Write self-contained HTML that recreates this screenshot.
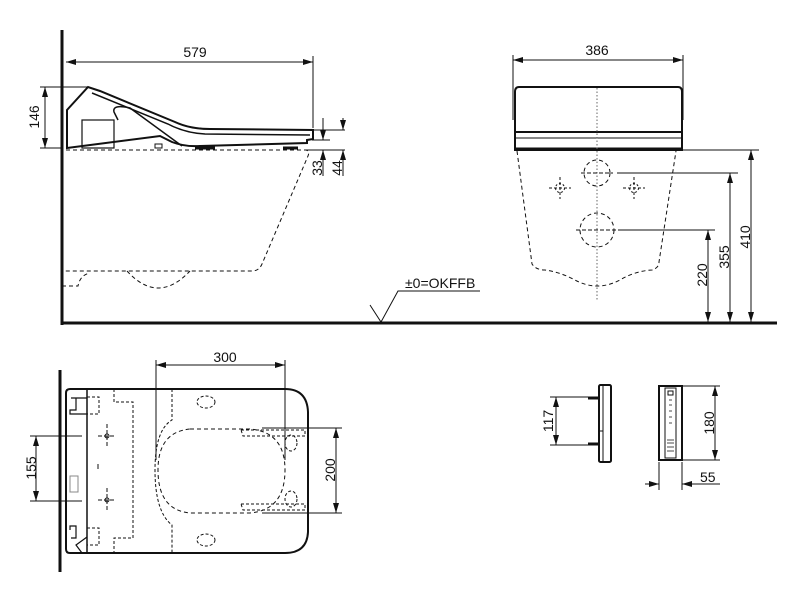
<!DOCTYPE html>
<html><head><meta charset="utf-8"><style>
html,body{margin:0;padding:0;background:#fff;width:800px;height:600px;overflow:hidden}
svg{display:block}
text{font-family:"Liberation Sans",sans-serif;font-size:14px;fill:#111}
</style></head><body>
<svg width="800" height="600" viewBox="0 0 800 600" xmlns="http://www.w3.org/2000/svg">
<defs>
<marker id="a" viewBox="0 0 10 6" refX="10" refY="3" markerWidth="10" markerHeight="6" orient="auto-start-reverse" markerUnits="userSpaceOnUse"><path d="M0,0 L10,3 L0,6 z" fill="#111"/></marker>
</defs>
<g stroke="#111" fill="none" stroke-width="1">
<line x1="62" y1="30" x2="62" y2="325" stroke-width="3"/>
<line x1="61" y1="323" x2="777" y2="323" stroke-width="3"/>
<line x1="66" y1="62" x2="313" y2="62" marker-start="url(#a)" marker-end="url(#a)"/>
<line x1="313" y1="56" x2="313" y2="128"/>
<line x1="40" y1="87" x2="88" y2="87"/>
<line x1="40" y1="148" x2="62" y2="148"/>
<line x1="45" y1="87" x2="45" y2="148" marker-start="url(#a)" marker-end="url(#a)"/>
<path d="M67,148 L67,110 L88,87 L100,91 L175,122 Q190,129 210,129 L313,130 L313,139 L307,140 L307,143 L200,146 Q185,147 172,142 L160,136 Z" stroke-width="2" fill="#fff"/>
<path d="M92,93 L168,124 Q185,133 205,134 L310,135" stroke-width="1.5"/>
<path d="M182,146 L130,108 Q112,104 114,112 L118,120" stroke-width="1.5"/>
<rect x="82" y="120" width="32" height="28" stroke-width="1.2"/>
<rect x="155" y="144" width="7" height="4" stroke-width="1"/>
<line x1="195" y1="148" x2="215" y2="148" stroke-width="3"/>
<line x1="283" y1="148" x2="298" y2="148" stroke-width="3"/>
<path d="M66,150 L306,150 Q310,151 308,156 L262,264 Q259,271 252,271 L62,271" stroke-dasharray="4,3"/>
<path d="M127,271 Q158,305 190,271" stroke-dasharray="4,3"/>
<path d="M62,286 L78,286 Q80,275 90,273" stroke-dasharray="4,3"/>
<line x1="312" y1="130" x2="345" y2="130"/>
<line x1="312" y1="140" x2="330" y2="140"/>
<line x1="306" y1="150" x2="345" y2="150"/>
<line x1="323" y1="118" x2="323" y2="140" marker-end="url(#a)"/>
<line x1="323" y1="176" x2="323" y2="150" marker-end="url(#a)"/>
<line x1="343" y1="118" x2="343" y2="130" marker-end="url(#a)"/>
<line x1="343" y1="176" x2="343" y2="150" marker-end="url(#a)"/>
<path d="M370,305 L381,322 L398,291 L480,291"/>
<line x1="513" y1="60" x2="683" y2="60" marker-start="url(#a)" marker-end="url(#a)"/>
<line x1="513" y1="55" x2="513" y2="120"/>
<line x1="683" y1="55" x2="683" y2="120"/>
<path d="M519,87 L678,87 Q682,87 682,92 L682,150 L515,150 L515,92 Q515,87 519,87 Z" stroke-width="2" fill="#fff"/>
<line x1="515" y1="132" x2="682" y2="132" stroke-width="2"/>
<line x1="515" y1="138" x2="682" y2="138" stroke-width="1"/>
<line x1="515" y1="149" x2="682" y2="149" stroke-width="3"/>
<line x1="597" y1="88" x2="597" y2="300" stroke-dasharray="1.5,2" stroke="#666"/>
<path d="M517,151 L532,264 Q536,270 545,270 Q560,272 575,280 Q597,292 620,280 Q635,271 652,270 Q659,268 659,262 L676,151" stroke-dasharray="4,3"/>
<circle cx="597" cy="173" r="13" stroke-dasharray="4,3"/>
<circle cx="597" cy="230" r="17" stroke-dasharray="4,3"/>
<line x1="581" y1="173" x2="613" y2="173" stroke-dasharray="4,2"/>
<line x1="576" y1="230" x2="620" y2="230" stroke-dasharray="4,2"/>
<circle cx="560" cy="188" r="4.5" stroke-dasharray="2,2"/>
<circle cx="634" cy="188" r="4.5" stroke-dasharray="2,2"/>
<path d="M549,188h22M560,177v22M623,188h22M634,177v22" stroke-dasharray="3,2"/>
<line x1="680" y1="150" x2="759" y2="150"/>
<line x1="617" y1="173" x2="738" y2="173"/>
<line x1="620" y1="230" x2="715" y2="230"/>
<line x1="708" y1="230" x2="708" y2="322" marker-start="url(#a)" marker-end="url(#a)"/>
<line x1="730" y1="173" x2="730" y2="322" marker-start="url(#a)" marker-end="url(#a)"/>
<line x1="751" y1="150" x2="751" y2="322" marker-start="url(#a)" marker-end="url(#a)"/>
<line x1="60" y1="370" x2="60" y2="572" stroke-width="3"/>
<path d="M70,389 L285,389 Q307,389 308,412 L308,532 Q307,553 285,553 L70,553 Q66,553 66,549 L66,393 Q66,389 70,389 Z" stroke-width="2" fill="#fff"/>
<line x1="87" y1="389" x2="87" y2="553" stroke-width="1.5"/>
<path d="M71,398 L76,398 L76,410 L70,410 L70,414 L87,414 M76,398 L87,398" stroke-width="1.2"/>
<path d="M70,530 L70,526 L76,526 L76,538 L71,538 M87,537 L76,545 L82,553" stroke-width="1.2"/>
<rect x="70" y="476" width="8" height="16" stroke="#888"/>
<path d="M87,397 L99,397 L99,414 L87,414 M87,528 L99,528 L99,545 L87,545" stroke-dasharray="3,2"/>
<path d="M114,389 L114,402 L133,402 L133,538 L114,538 L114,553" stroke-dasharray="3,2"/>
<path d="M172,389 L172,420 Q155,430 155,470 Q155,512 172,525 L172,553" stroke-dasharray="3,2"/>
<path d="M190,429 L250,429 Q285,432 285,470 Q285,510 250,513 L190,513 Q158,510 158,470 Q158,432 190,429 Z" stroke-dasharray="4,3"/>
<path d="M241,430 L305,430 L305,436 L243,436 Z M241,504 L305,504 L305,510 L243,510 Z" stroke-dasharray="3,2"/>
<ellipse cx="206" cy="402" rx="9" ry="6" stroke-dasharray="3,2"/>
<ellipse cx="206" cy="540" rx="9" ry="6" stroke-dasharray="3,2"/>
<ellipse cx="291" cy="443" rx="6" ry="8" stroke-dasharray="3,2"/>
<ellipse cx="291" cy="499" rx="6" ry="8" stroke-dasharray="3,2"/>
<circle cx="107" cy="436" r="2"/><circle cx="107" cy="500" r="2"/>
<path d="M107,424v24M107,488v24M98,436h18M98,500h18" stroke-dasharray="4,2"/>
<line x1="98" y1="464" x2="98" y2="469"/>
<line x1="156" y1="365" x2="285" y2="365" marker-start="url(#a)" marker-end="url(#a)"/>
<line x1="156" y1="360" x2="156" y2="460"/>
<line x1="285" y1="360" x2="285" y2="460"/>
<line x1="262" y1="428" x2="342" y2="428"/>
<line x1="262" y1="513" x2="342" y2="513"/>
<line x1="336" y1="428" x2="336" y2="513" marker-start="url(#a)" marker-end="url(#a)"/>
<line x1="30" y1="436" x2="82" y2="436"/>
<line x1="30" y1="501" x2="82" y2="501"/>
<line x1="36" y1="436" x2="36" y2="501" marker-start="url(#a)" marker-end="url(#a)"/>
<rect x="599" y="385" width="12" height="77" rx="1.5" stroke-width="2"/>
<line x1="603" y1="386" x2="603" y2="461"/>
<line x1="599" y1="431" x2="603" y2="431"/>
<line x1="588" y1="398" x2="599" y2="398" stroke-width="3"/>
<line x1="588" y1="444" x2="599" y2="444" stroke-width="3"/>
<line x1="550" y1="397" x2="588" y2="397"/>
<line x1="550" y1="445" x2="588" y2="445"/>
<line x1="556" y1="397" x2="556" y2="445" marker-start="url(#a)" marker-end="url(#a)"/>
<rect x="659" y="386" width="23" height="74" stroke-width="2"/>
<rect x="665" y="388" width="11" height="70" stroke-width="1"/>
<rect x="668" y="391" width="5" height="4"/>
<path d="M669,400h3M669,405h3M669,411h3M669,417h3M669,423h3M667,440h7M667,443h7M667,447h7M667,451h7" stroke-width="0.8"/>
<line x1="682" y1="386" x2="720" y2="386"/>
<line x1="682" y1="460" x2="720" y2="460"/>
<line x1="715" y1="386" x2="715" y2="460" marker-start="url(#a)" marker-end="url(#a)"/>
<line x1="659" y1="462" x2="659" y2="490"/>
<line x1="682" y1="462" x2="682" y2="490"/>
<line x1="645" y1="484" x2="659" y2="484" marker-end="url(#a)"/>
<line x1="720" y1="484" x2="682" y2="484" marker-end="url(#a)"/>
</g>
<text x="195" y="57" text-anchor="middle">579</text>
<text transform="translate(39,117) rotate(-90)" text-anchor="middle">146</text>
<text transform="translate(322,168) rotate(-90)" text-anchor="middle">33</text>
<text transform="translate(342,168) rotate(-90)" text-anchor="middle">44</text>
<text x="405" y="288" font-size="13">±0=OKFFB</text>
<text x="597" y="55" text-anchor="middle">386</text>
<text transform="translate(707,275) rotate(-90)" text-anchor="middle">220</text>
<text transform="translate(729,257) rotate(-90)" text-anchor="middle">355</text>
<text transform="translate(750,237) rotate(-90)" text-anchor="middle">410</text>
<text x="225" y="362" text-anchor="middle">300</text>
<text transform="translate(335,470) rotate(-90)" text-anchor="middle">200</text>
<text transform="translate(36,468) rotate(-90)" text-anchor="middle">155</text>
<text transform="translate(553,421) rotate(-90)" text-anchor="middle">117</text>
<text transform="translate(714,423) rotate(-90)" text-anchor="middle">180</text>
<text x="700" y="482">55</text>
</svg>
</body></html>
